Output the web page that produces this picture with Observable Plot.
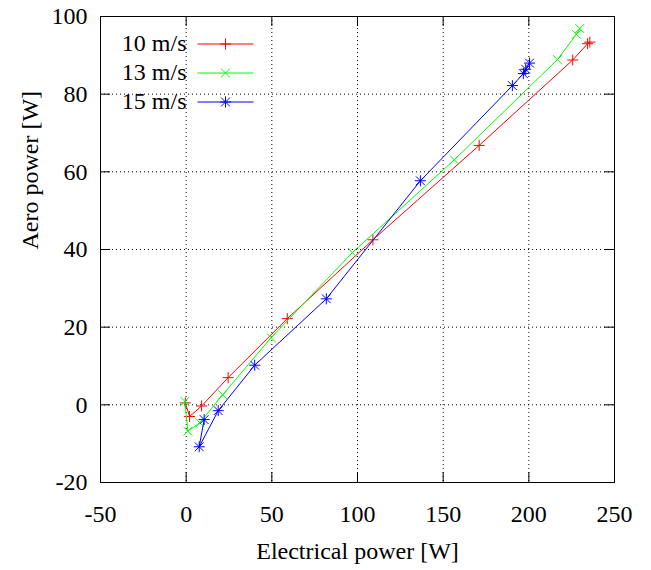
<!DOCTYPE html>
<html><head><meta charset="utf-8">
<script src="https://cdn.jsdelivr.net/npm/d3@7"></script>
<script src="https://cdn.jsdelivr.net/npm/@observablehq/plot@0.6"></script>
<style>
body{margin:0;background:#fff;}
#chart{width:651px;height:570px;}
#chart svg, #chart svg text { font-family: "Liberation Serif", "Times New Roman", serif !important; }
</style>
</head><body><div id="chart"></div>
<script>
const series = ["10 m/s", "13 m/s", "15 m/s"];
const colors = ["#ff0000", "#00ff00", "#0000ff"];

const elec10 = [-0.5, 2, 9, 24.5, 59, 109, 171, 225.6, 234.3, 235.6];
const aero10 = [0.5, -3, -0.3, 7, 22.2, 42.5, 66.8, 88.8, 93.0, 93.4];

const elec13 = [-0.8, 1, 8, 21.3, 49.6, 97, 156.5, 216.7, 227.8, 229.7];
const aero13 = [0.9, -6.8, -4.6, 2.6, 17.3, 39.2, 63.1, 88.9, 95.4, 96.9];

const elec15 = [10.5, 7.6, 18.7, 40, 81.8, 136.7, 190.4, 196.8, 198.2, 200.4];
const aero15 = [-3.8, -10.8, -1.5, 10.2, 27.3, 57.7, 82.2, 85.3, 86.4, 88.0];

const xTicks = [-50, 0, 50, 100, 150, 200, 250];
const yTicks = [-20, 0, 20, 40, 60, 80, 100];
const xLabel = "Electrical power [W]";
const yLabel = "Aero power [W]";

const rows = [];
[[elec10, aero10], [elec13, aero13], [elec15, aero15]].forEach(([xs, ys], i) => {
  xs.forEach((x, j) => rows.push({series: series[i], x, y: ys[j]}));
});

const FONT = "Liberation Serif";
const FS = 24;

// marker symbols (gnuplot style: +, x, *)
const R = 5.5;
const plus = (ctx, r) => { ctx.moveTo(-r, 0); ctx.lineTo(r, 0); ctx.moveTo(0, -r); ctx.lineTo(0, r); };
const times = (ctx, r) => { const s = r * 0.8; ctx.moveTo(-s, -s); ctx.lineTo(s, s); ctx.moveTo(-s, s); ctx.lineTo(s, -s); };
const markers = [
  {draw(ctx) { plus(ctx, R); }},
  {draw(ctx) { times(ctx, R); }},
  {draw(ctx) { plus(ctx, R); times(ctx, R); }}
];
const L = 28;
const legendKeys = markers.map(m => ({draw(ctx, s) { ctx.moveTo(-L, 0); ctx.lineTo(L, 0); m.draw(ctx, s); }}));

const fmt = d => String(d);

const marks = [
  Plot.ruleX(xTicks.slice(1, -1), {stroke: "black", strokeDasharray: "1,3", strokeWidth: 1}),
  Plot.ruleY(yTicks.slice(1, -1), {stroke: "black", strokeDasharray: "1,3", strokeWidth: 1}),
  Plot.tickX(xTicks, {x: d => d, insetTop: 456, stroke: "black"}),
  Plot.tickX(xTicks, {x: d => d, insetBottom: 456, stroke: "black"}),
  Plot.tickY(yTicks, {y: d => d, insetRight: 504, stroke: "black"}),
  Plot.tickY(yTicks, {y: d => d, insetLeft: 504, stroke: "black"}),
  Plot.axisX(xTicks, {anchor: "bottom", tickSize: 0, tickPadding: 22, fontSize: FS, fontFamily: FONT, label: null, tickFormat: fmt}),
  Plot.axisY(yTicks, {anchor: "left", tickSize: 0, tickPadding: 13, fontSize: FS, fontFamily: FONT, label: null, tickFormat: fmt}),
  Plot.text([xLabel], {frameAnchor: "bottom", dy: 69, lineAnchor: "middle", fontSize: FS, fontFamily: FONT}),
  Plot.text([yLabel], {frameAnchor: "left", dx: -70, rotate: -90, lineAnchor: "middle", fontSize: FS, fontFamily: FONT}),
];

series.forEach((s, i) => {
  const d = rows.filter(r => r.series === s);
  marks.push(Plot.line(d, {x: "x", y: "y", stroke: colors[i], strokeWidth: 1}));
  marks.push(Plot.dot(d, {x: "x", y: "y", symbol: () => markers[i], r: R, stroke: colors[i], fill: "none", strokeWidth: 1}));
  marks.push(Plot.text([s], {frameAnchor: "top-left", dx: 86, dy: 27 + 29 * i, textAnchor: "end", lineAnchor: "middle", fontSize: FS, fontFamily: FONT}));
  marks.push(Plot.dot([s], {frameAnchor: "top-left", dx: 125, dy: 27.5 + 29 * i, symbol: () => legendKeys[i], r: R, stroke: colors[i], fill: "none", strokeWidth: 1}));
});

marks.push(Plot.frame({stroke: "black", strokeWidth: 1}));

const chart = Plot.plot({
  width: 651,
  height: 570,
  marginLeft: 100,
  marginRight: 37,
  marginTop: 16,
  marginBottom: 88,
  x: {domain: [-50, 250], axis: null},
  y: {domain: [-20, 100], axis: null},
  symbol: {type: "identity"},
  style: {fontFamily: "Liberation Serif", fontSize: "24px", color: "black", background: "white"},
  marks
});
document.getElementById("chart").appendChild(chart);
</script>
</body></html>
